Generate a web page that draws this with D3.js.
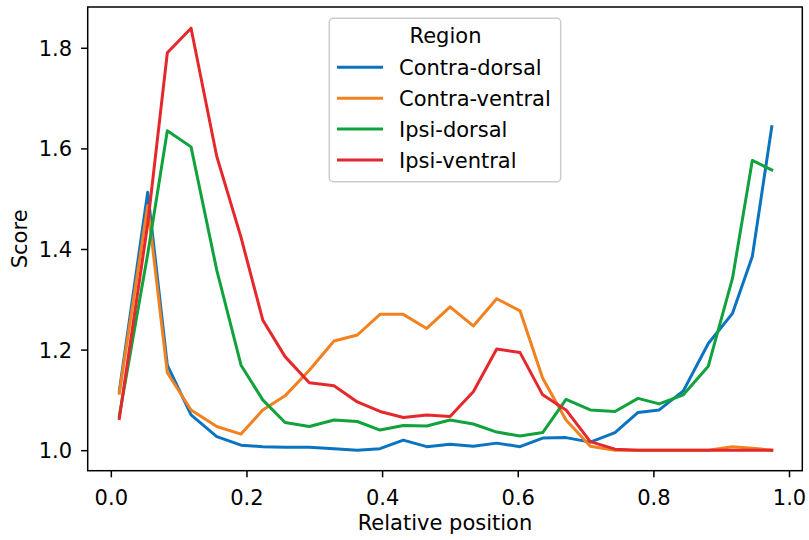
<!DOCTYPE html>
<html>
<head>
<meta charset="utf-8">
<script src="https://cdn.jsdelivr.net/npm/d3@7"></script>
<style>
  html, body { margin: 0; padding: 0; background: #fff; }
  svg { display: block; font-family: "DejaVu Sans", sans-serif; }
</style>
</head>
<body>
<svg id="chart" width="809" height="540"></svg>
<script>
// Relative positions along the profile (shared by all regions)
const positions = [0.0125, 0.0544, 0.0833, 0.1183, 0.1562, 0.1920, 0.2240, 0.2569, 0.2927, 0.3291,
                   0.3635, 0.3969, 0.4313, 0.4658, 0.5002, 0.5345, 0.5690, 0.6034, 0.6368, 0.6712,
                   0.7070, 0.7434, 0.7774, 0.8086, 0.8442, 0.8810, 0.9167, 0.9459, 0.9746];

const regionNames = ["Contra-dorsal", "Contra-ventral", "Ipsi-dorsal", "Ipsi-ventral"];

const contraDorsal = [1.117, 1.513, 1.169, 1.070, 1.027, 1.010, 1.007, 1.006, 1.006, 1.003,
                      1.000, 1.003, 1.020, 1.007, 1.012, 1.008, 1.014, 1.007, 1.024, 1.025,
                      1.016, 1.035, 1.075, 1.080, 1.118, 1.212, 1.272, 1.385, 1.643];

const contraVentral = [1.113, 1.486, 1.154, 1.080, 1.047, 1.032, 1.080, 1.108, 1.159, 1.217,
                       1.229, 1.270, 1.270, 1.242, 1.285, 1.247, 1.301, 1.277, 1.143, 1.060,
                       1.008, 1.000, 1.000, 1.000, 1.000, 1.000, 1.007, 1.004, 1.000];

const ipsiDorsal = [1.068, 1.390, 1.635, 1.603, 1.358, 1.169, 1.100, 1.055, 1.047, 1.060,
                    1.057, 1.040, 1.049, 1.048, 1.060, 1.052, 1.036, 1.028, 1.035, 1.101,
                    1.080, 1.077, 1.103, 1.092, 1.110, 1.167, 1.342, 1.576, 1.557];

const ipsiVentral = [1.063, 1.450, 1.790, 1.839, 1.584, 1.423, 1.259, 1.186, 1.134, 1.128,
                     1.096, 1.077, 1.065, 1.070, 1.067, 1.116, 1.201, 1.194, 1.110, 1.080,
                     1.017, 1.002, 1.000, 1.000, 1.000, 1.000, 1.000, 1.000, 1.000];

const xTicks = [0.0, 0.2, 0.4, 0.6, 0.8, 1.0];
const yTicks = [1.0, 1.2, 1.4, 1.6, 1.8];

const colors = ["#0b74c0", "#f28120", "#10a23c", "#e4282b"];
const seriesValues = [contraDorsal, contraVentral, ipsiDorsal, ipsiVentral];

const series = regionNames.map((name, i) => ({
  name,
  color: colors[i],
  points: positions.map((p, j) => ({ x: p, y: seriesValues[i][j] }))
}));

// Plot area
const plotLeft = 87.7, plotRight = 802.3, plotTop = 7, plotBottom = 470.7;
const fontSize = 21;
const tickLen = 6.6;

const svg = d3.select("#chart");

const x = d3.scaleLinear().domain([-0.0341, 1.0196]).range([plotLeft, plotRight]);
const y = d3.scaleLinear().domain([0.9592, 1.8811]).range([plotBottom, plotTop]);

svg.append("defs").append("clipPath").attr("id", "plot-clip")
  .append("rect")
  .attr("x", plotLeft).attr("y", plotTop)
  .attr("width", plotRight - plotLeft).attr("height", plotBottom - plotTop);

// Lines
const line = d3.line().x(d => x(d.x)).y(d => y(d.y));

svg.append("g").attr("clip-path", "url(#plot-clip)")
  .selectAll("path")
  .data(series)
  .join("path")
  .attr("d", d => line(d.points))
  .attr("fill", "none")
  .attr("stroke", d => d.color)
  .attr("stroke-width", 3)
  .attr("stroke-linejoin", "round")
  .attr("stroke-linecap", "square");

// Axes
const xAxis = d3.axisBottom(x)
  .tickValues(xTicks)
  .tickFormat(d3.format(".1f"))
  .tickSize(tickLen)
  .tickPadding(6.6);

const yAxis = d3.axisLeft(y)
  .tickValues(yTicks)
  .tickFormat(d3.format(".1f"))
  .tickSize(tickLen)
  .tickPadding(9);

const gx = svg.append("g").attr("transform", `translate(0,${plotBottom})`).call(xAxis);
const gy = svg.append("g").attr("transform", `translate(${plotLeft},0)`).call(yAxis);

[gx, gy].forEach(g => {
  g.select(".domain").remove();
  g.selectAll(".tick line").attr("stroke", "#000").attr("stroke-width", 1.5);
  g.selectAll(".tick text")
    .attr("fill", "#000")
    .style("font-size", fontSize + "px")
    .style("font-family", "DejaVu Sans, sans-serif");
});
gx.selectAll(".tick text").attr("dy", null).attr("y", 34);
gy.selectAll(".tick text").attr("dy", null).attr("y", 7.6);

// Frame
svg.append("rect")
  .attr("x", plotLeft).attr("y", plotTop)
  .attr("width", plotRight - plotLeft).attr("height", plotBottom - plotTop)
  .attr("fill", "none")
  .attr("stroke", "#000")
  .attr("stroke-width", 1.5);

// Axis titles
svg.append("text")
  .attr("x", (plotLeft + plotRight) / 2)
  .attr("y", 530)
  .attr("text-anchor", "middle")
  .style("font-size", fontSize + "px")
  .text("Relative position");

svg.append("text")
  .attr("transform", `translate(27,${(plotTop + plotBottom) / 2}) rotate(-90)`)
  .attr("text-anchor", "middle")
  .style("font-size", fontSize + "px")
  .text("Score");

// Legend
const legend = svg.append("g");
legend.append("rect")
  .attr("x", 329.3).attr("y", 18.3)
  .attr("width", 231.4).attr("height", 163.4)
  .attr("rx", 3.8).attr("ry", 3.8)
  .attr("fill", "rgba(255,255,255,0.8)")
  .attr("stroke", "#cccccc")
  .attr("stroke-width", 1.5);

legend.append("text")
  .attr("x", 445.5).attr("y", 43.3)
  .attr("text-anchor", "middle")
  .style("font-size", fontSize + "px")
  .text("Region");

const entries = legend.selectAll("g.entry")
  .data(series)
  .join("g")
  .attr("class", "entry")
  .attr("transform", (d, i) => `translate(0,${67.3 + i * 30.9})`);

entries.append("line")
  .attr("x1", 337).attr("x2", 383)
  .attr("y1", 0).attr("y2", 0)
  .attr("stroke", d => d.color)
  .attr("stroke-width", 3);

entries.append("text")
  .attr("x", 399).attr("y", 7.6)
  .style("font-size", fontSize + "px")
  .text(d => d.name);
</script>
</body>
</html>
